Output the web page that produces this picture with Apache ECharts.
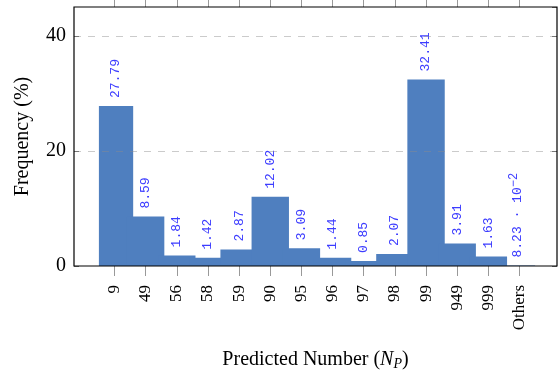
<!DOCTYPE html>
<html>
<head>
<meta charset="utf-8">
<script src="https://cdn.jsdelivr.net/npm/echarts@6/dist/echarts.min.js"></script>
<style>
html,body{margin:0;padding:0;background:#fff;}
#chart{width:560px;height:371px;}
</style>
</head>
<body>
<div id="chart"></div>
<script>
var categories = ['9', '49', '56', '58', '59', '90', '95', '96', '97', '98', '99', '949', '999', 'Others'];
var frequencies = [27.79, 8.59, 1.84, 1.42, 2.87, 12.02, 3.09, 1.44, 0.85, 2.07, 32.41, 3.91, 1.63, 0.0823];
var yTicks = [0, 20, 40];
var yMin = 0, yMax = 45;

function fmtValue(v) {
  if (v >= 0.1) return v.toFixed(2);
  var e = Math.floor(Math.log10(v));
  var m = v / Math.pow(10, e);
  return m.toFixed(2) + ' \u00b7 10{s|\u2212' + Math.abs(e) + '}';
}

var serif = '"Liberation Serif", "DejaVu Serif", serif';
var mono = '"Liberation Mono", "DejaVu Sans Mono", monospace';
var chart = echarts.init(document.getElementById('chart'), null, {renderer: 'canvas'});
var option = {
  animation: false,
  backgroundColor: '#fff',
  grid: [
    {left: 74, right: 3, top: 7, bottom: 105, containLabel: false, outerBoundsMode: 'none',
     show: true, borderColor: '#000', borderWidth: 1.2, backgroundColor: 'transparent', z: 6},
    {left: 98.9, right: 24.9, top: 7, bottom: 105, containLabel: false, outerBoundsMode: 'none'}
  ],
  xAxis: [
    {
      gridIndex: 0, type: 'value', min: 0, max: 1, position: 'bottom', z: 5,
      axisLine: {show: false, onZero: false},
      axisTick: {show: false}, axisLabel: {show: false}, splitLine: {show: false},
      name: 'Predicted Number ({i|N}{s|P})', nameLocation: 'middle', nameGap: 82,
      nameTextStyle: {
        fontFamily: serif, fontSize: 20, color: '#000',
        rich: {
          i: {fontFamily: serif, fontSize: 20, fontStyle: 'italic', color: '#000'},
          s: {fontFamily: serif, fontSize: 14, fontStyle: 'italic', color: '#000', padding: [9, 0, 0, 0]}
        }
      }
    },
    {
      gridIndex: 1, type: 'category', data: categories, position: 'bottom',
      axisLine: {show: false, onZero: false},
      axisTick: {show: true, interval: 0, alignWithLabel: true, inside: false, length: 10, lineStyle: {color: '#999', width: 1}},
      axisLabel: {show: true, rotate: 90, margin: 19, fontFamily: serif, fontSize: 17, color: '#000', interval: 0},
      splitLine: {show: false}
    },
    {
      show: true, gridIndex: 1, type: 'category', data: categories, position: 'top', offset: 0,
      axisLine: {show: false, onZero: false},
      axisTick: {show: true, interval: 0, alignWithLabel: true, inside: false, length: 10, lineStyle: {color: '#999', width: 1}},
      axisLabel: {show: true, interval: 0, formatter: function () { return ''; }}, splitLine: {show: false}
    }
  ],
  yAxis: [
    {
      gridIndex: 0, type: 'value', min: yMin, max: yMax, interval: 20, position: 'left', z: 5,
      axisLine: {show: false, onZero: false},
      axisTick: {show: true, inside: true, length: 5, lineStyle: {color: '#777', width: 1}},
      axisLabel: {show: true, margin: 8, fontFamily: serif, fontSize: 20, color: '#000', showMaxLabel: false,
        formatter: function (v) { return yTicks.indexOf(v) >= 0 ? String(v) : ''; }},
      splitLine: {show: true, showMinLine: false, showMaxLine: false,
        lineStyle: {color: 'rgba(140,140,140,0.45)', width: 1.2, type: [7, 7]}},
      name: 'Frequency (%)', nameLocation: 'middle', nameGap: 41,
      nameTextStyle: {fontFamily: serif, fontSize: 20, color: '#000'}
    },
    {
      show: true, gridIndex: 0, type: 'value', min: yMin, max: yMax, interval: 20, position: 'right', offset: 0, z: 5,
      axisLine: {show: false, onZero: false},
      axisTick: {show: true, inside: true, length: 5, lineStyle: {color: '#777', width: 1}},
      axisLabel: {show: false}, splitLine: {show: false}
    },
    {
      gridIndex: 1, type: 'value', min: yMin, max: yMax, show: false
    }
  ],
  series: [
    {
      type: 'bar',
      xAxisIndex: 1, yAxisIndex: 2,
      data: frequencies,
      barWidth: '120%',
      itemStyle: {color: '#4f7fbf'},
      label: {
        show: true, position: 'top', rotate: 90, align: 'left', verticalAlign: 'middle', distance: 8,
        fontFamily: mono, fontSize: 13, color: '#3d3dff',
        formatter: function (p) { return fmtValue(p.value); },
        rich: {
          s: {fontFamily: mono, fontSize: 12, color: '#3d3dff', padding: [0, 0, 9, 0]}
        }
      }
    }
  ]
};
chart.setOption(option);
</script>
</body>
</html>
